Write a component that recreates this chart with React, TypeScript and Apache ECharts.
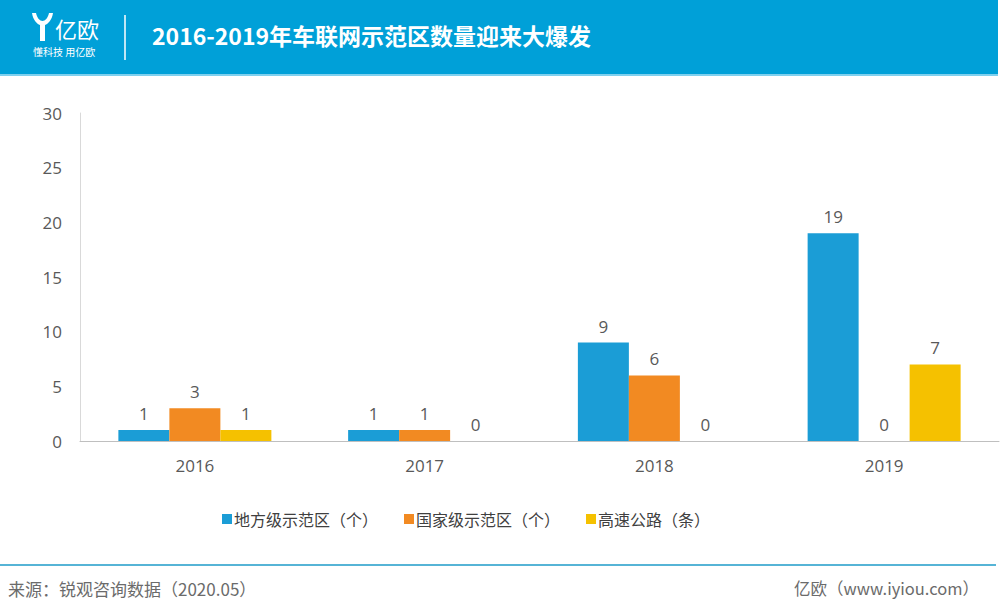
import React, { useEffect, useRef } from "react";
import * as echarts from "echarts";

const categories = ["2016", "2017", "2018", "2019"];
const seriesNames = ["地方级示范区（个）", "国家级示范区（个）", "高速公路（条）"];
const localZones = [1, 1, 9, 19];
const nationalZones = [3, 1, 6, 0];
const highways = [1, 0, 0, 7];
const colors = ["#1b9dd6", "#f28a22", "#f5c100"];
const yTicks = { min: 0, max: 30, interval: 5 };

const FONT = "'Open Sans', 'Noto Sans CJK SC', sans-serif";
const CJK = "'Noto Sans CJK SC', 'Open Sans', sans-serif";

echarts.graphic.registerShape(
  "yLogo",
  echarts.graphic.extendPath(
    "M0 0 L4 0 C5 5 8 8 10.5 8 C13 8 16 5 17 0 L21 0 C20 7 16 11 13 12 L13 28 L8 28 L8 12 C5 11 1 7 0 0 Z",
    {}
  )
);

export default function App() {
  const ref = useRef<HTMLDivElement>(null);
  useEffect(() => {
    if (!ref.current) return;
    const chart = echarts.init(ref.current, undefined, { renderer: "svg" });
    const data = [localZones, nationalZones, highways];
    chart.setOption({
      animation: false,
      backgroundColor: "#ffffff",
      grid: { left: 80, right: 1, top: 113, bottom: 174 },
      legend: {
        data: seriesNames,
        left: 217,
        top: 506,
        itemWidth: 10,
        itemHeight: 10,
        itemGap: 26,
        icon: "rect",
        textStyle: { fontSize: 16, color: "#404040", fontFamily: CJK, padding: [0, 0, 0, -3] },
      },
      xAxis: {
        type: "category",
        data: categories,
        axisLine: { lineStyle: { color: "#bfbfbf", width: 1 } },
        axisTick: { show: false },
        axisLabel: { fontSize: 17, color: "#595959", fontFamily: FONT, margin: 16 },
      },
      yAxis: {
        type: "value",
        min: yTicks.min,
        max: yTicks.max,
        interval: yTicks.interval,
        axisLine: { show: true, lineStyle: { color: "#d9d9d9" } },
        axisTick: { show: false },
        splitLine: { show: false },
        axisLabel: { fontSize: 17, color: "#595959", fontFamily: FONT, margin: 18 },
      },
      series: seriesNames.map((name, i) => ({
        name,
        type: "bar",
        data: data[i],
        barWidth: 51,
        barGap: "0%",
        itemStyle: { color: colors[i] },
        label: {
          show: true,
          position: "top",
          distance: 8,
          fontSize: 17,
          color: "#595959",
          fontFamily: FONT,
        },
      })),
      graphic: [
        { type: "rect", shape: { x: 0, y: 0, width: 998, height: 74 }, style: { fill: "#00a0d8" } },
        { type: "rect", shape: { x: 0, y: 74, width: 998, height: 2 }, style: { fill: "#7fd0ee" } },
        { type: "yLogo", x: 32, y: 13, scaleX: 1, scaleY: 1, style: { fill: "#ffffff" } },
        {
          type: "text",
          x: 55,
          y: 17,
          style: { text: "亿欧", fontSize: 22, fill: "#ffffff", fontFamily: CJK },
        },
        {
          type: "text",
          x: 33,
          y: 46,
          style: { text: "懂科技 用亿欧", fontSize: 10, fill: "#ffffff", fontFamily: CJK },
        },
        { type: "line", shape: { x1: 125, y1: 15, x2: 125, y2: 60 }, style: { stroke: "#ffffff", lineWidth: 1.5 } },
        {
          type: "text",
          x: 152,
          y: 23,
          style: {
            text: "2016-2019年车联网示范区数量迎来大爆发",
            fontSize: 23,
            fontWeight: "bold",
            fill: "#ffffff",
            fontFamily: CJK,
          },
        },
        { type: "rect", shape: { x: 0, y: 564, width: 996, height: 2 }, style: { fill: "#56b4d6" } },
        {
          type: "text",
          x: 8,
          y: 580,
          style: { text: "来源：锐观咨询数据（2020.05）", fontSize: 17, fill: "#6b6b6b", fontFamily: CJK },
        },
        {
          type: "text",
          right: 21,
          y: 580,
          style: { text: "亿欧（www.iyiou.com）", fontSize: 16.5, fill: "#6b6b6b", fontFamily: CJK, align: "right" },
        },
      ],
    });
    return () => chart.dispose();
  }, []);
  return (
    <div
      ref={ref}
      style={{ position: "fixed", left: 0, top: 0, width: 1000, height: 615 }}
    />
  );
}
